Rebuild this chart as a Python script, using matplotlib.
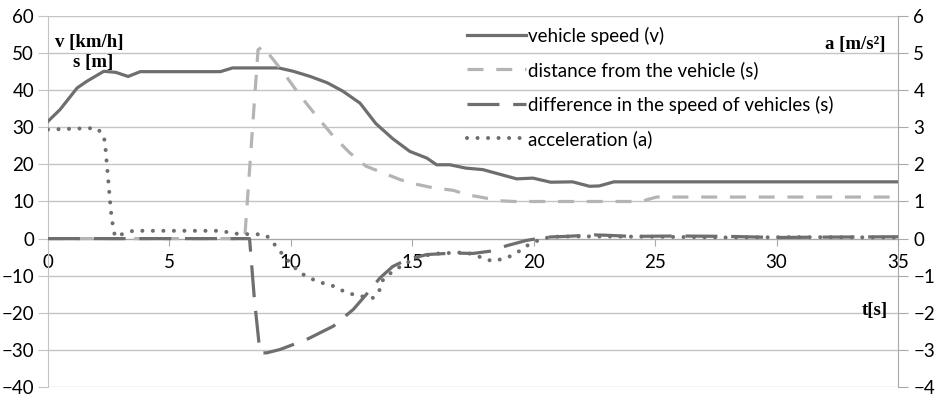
import matplotlib.pyplot as plt
import numpy as np

# vehicle speed v [km/h]
speed_t = [0, 0.5, 1.2, 1.6, 2.3, 2.8, 3.3, 3.8, 7.1, 7.6, 9.5, 10.1, 10.8, 11.5,
           12.15, 12.85, 13.5, 14.2, 14.9, 15.6, 16.0, 16.55, 17.2, 17.9, 19.3,
           19.97, 20.7, 21.6, 22.3, 22.7, 23.3, 35]
speed_v = [31.6, 34.8, 40.6, 42.4, 45.1, 44.8, 43.7, 45.0, 45.0, 46.0, 46.0, 45.1,
           43.7, 42.0, 39.7, 36.5, 31.0, 26.9, 23.5, 21.7, 19.9, 19.9, 19.0, 18.6,
           16.1, 16.3, 15.2, 15.3, 14.1, 14.2, 15.3, 15.3]

# distance from the vehicle s [m]
dist_t = [0, 8.1, 8.65, 8.85, 9.7, 10.4, 11.06, 11.75, 12.43, 13.1, 13.8, 14.5,
          15.2, 15.85, 16.7, 17.2, 17.8, 18.6, 19.2, 24.4, 25.06, 35]
dist_s = [0, 0, 50.9, 51.8, 44.7, 38.4, 33.0, 27.6, 23.1, 19.5, 17.7, 15.9, 14.6,
          13.7, 13.0, 11.9, 11.2, 10.2, 10.0, 10.0, 11.2, 11.2]

# difference in the speed of vehicles
diff_t = [0, 8.3, 8.5, 8.73, 9.0, 9.55, 10.65, 11.75, 12.57, 13.1, 13.67, 14.2,
          14.77, 15.6, 16.7, 17.5, 18.2, 18.9, 19.7, 20.5, 21.35, 22.5, 23.0,
          24.0, 26.0, 28.0, 30.0, 32.0, 35]
diff_v = [0, 0, -16.4, -30.8, -30.8, -29.9, -27.2, -23.6, -19.1, -15.1, -10.6,
          -7.5, -5.7, -4.3, -3.9, -4.0, -3.4, -1.9, -0.5, 0.4, 0.6, 1.0, 0.9,
          0.6, 0.7, 0.6, 0.3, 0.4, 0.5]

# acceleration a [m/s2]
acc_t = [0, 2.0, 2.28, 2.35, 2.42, 2.48, 2.55, 2.62, 2.69, 2.76, 3.1, 3.5, 7.1,
         7.5, 7.9, 8.6, 9.0, 9.27, 9.55, 9.96, 10.37, 11.06, 11.75, 12.3, 12.85,
         13.4, 13.67, 13.8, 14.2, 14.77, 15.3, 16.1, 17.2, 17.9, 18.3, 18.9, 19.4,
         19.8, 20.25, 20.7, 22.0, 25.0, 28.0, 31.0, 35]
acc_a = [2.94, 2.98, 2.8, 2.58, 2.04, 1.59, 1.05, 0.56, 0.29, 0.05, 0.13, 0.21,
         0.21, 0.16, 0.12, 0.12, 0.08, -0.11, -0.34, -0.65, -0.92, -1.15, -1.28,
         -1.46, -1.55, -1.6, -1.37, -1.1, -0.88, -0.65, -0.48, -0.4, -0.37, -0.52,
         -0.61, -0.52, -0.34, -0.16, -0.03, 0.05, 0.06, 0.05, 0.03, 0.04, 0.03]

x_ticks = np.arange(0, 36, 5)
left_ticks = np.arange(-40, 61, 10)
right_ticks = np.arange(-4, 7, 1)

dark = '#6e6e6e'
light = '#b4b4b4'
grid_col = '#c4c4c4'
axis_col = '#a8a8a8'
tick_font = 'Lato'
fsize = 13.5

fig = plt.figure(figsize=(9.37, 3.97), dpi=100)
ax = fig.add_axes([0.0512, 0.0252, 0.9072, 0.9345])
ax2 = ax.twinx()

ax.plot(speed_t, speed_v, color=dark, lw=2.3, label='vehicle speed (v)', zorder=3)
ax.plot(dist_t, dist_s, color=light, lw=2.3, dashes=(5, 4), label='distance from the vehicle (s)', zorder=3)
ax.plot(diff_t, diff_v, color=dark, lw=2.3, dashes=(10, 4.3), label='difference in the speed of vehicles (s)', zorder=3)
# acceleration drawn on the left axis scaled x10 so it stays on top, right axis shows m/s2
ax.plot(np.array(acc_t), np.array(acc_a) * 10, color=dark, lw=2.9, linestyle=(0, (0.01, 2.6)),
        dash_capstyle='round', label='acceleration (a)', zorder=4)

ax.set_xlim(0, 35)
ax.set_ylim(-40, 60)
ax2.set_ylim(-4, 6)
ax.set_xticks(x_ticks)
ax.set_yticks(left_ticks)
ax2.set_yticks(right_ticks)

ax.grid(axis='y', color=grid_col, lw=1)
ax.set_axisbelow(True)

for a in (ax, ax2):
    for side in ('top', 'bottom', 'left', 'right'):
        a.spines[side].set_visible(False)
ax.spines['left'].set_visible(True)
ax.spines['left'].set_color(grid_col)
ax2.spines['right'].set_visible(True)
ax2.spines['right'].set_color(axis_col)
ax.spines['bottom'].set_visible(True)
ax.spines['bottom'].set_position(('data', 0))
ax.spines['bottom'].set_color(axis_col)

ax.tick_params(axis='y', length=7, color=grid_col, labelsize=fsize, pad=3)
ax.tick_params(axis='x', length=5, color=axis_col, labelsize=fsize, pad=6)
ax2.tick_params(axis='y', length=7, color=axis_col, labelsize=fsize, pad=4)
for lab in ax.get_xticklabels() + ax.get_yticklabels() + ax2.get_yticklabels():
    lab.set_fontfamily(tick_font)

ax.set_zorder(ax2.get_zorder() + 1)
ax.patch.set_visible(False)

leg = ax.legend(loc='upper left', bbox_to_anchor=(0.4825, 0.997), frameon=False,
                prop={'family': tick_font, 'size': fsize}, handlelength=3.1,
                handletextpad=0.15, labelspacing=0.88, borderpad=0)

serif = {'family': 'Liberation Serif', 'weight': 'bold', 'size': 13.5}
fig.text(55 / 937, 1 - 42 / 397, 'v [km/h]', va='center', ha='left', fontdict=serif)
fig.text(73 / 937, 1 - 62 / 397, 's [m]', va='center', ha='left', fontdict=serif)
fig.text(886 / 937, 1 - 44 / 397, 'a [m/s²]', va='center', ha='right', fontdict=serif)
fig.text(888 / 937, 1 - 310 / 397, 't[s]', va='center', ha='right', fontdict=serif)

fig.savefig('out.png', dpi=100)
